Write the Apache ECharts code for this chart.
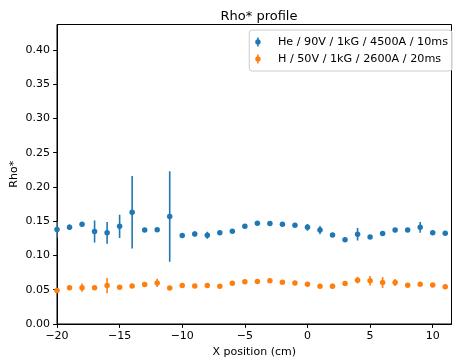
<!DOCTYPE html>
<html>
<head>
<meta charset="utf-8">
<script src="https://cdn.jsdelivr.net/npm/echarts@6/dist/echarts.min.js"></script>
<style>
  html, body { margin: 0; padding: 0; background: #fff; }
  #chart { width: 456px; height: 362px; }
</style>
</head>
<body>
<div id="chart"></div>
<script>
// x positions in cm
const xPos = [-20, -19, -18, -17, -16, -15, -14, -13, -12, -11, -10, -9, -8, -7, -6, -5,
              -4, -3, -2, -1, 0, 1, 2, 3, 4, 5, 6, 7, 8, 9, 10, 11];

// He / 90V / 1kG / 4500A / 10ms
const heVals = [0.138, 0.141, 0.1455, 0.135, 0.133, 0.1425, 0.163, 0.137, 0.1375, 0.157, 0.129, 0.1315,
                0.1295, 0.133, 0.1355, 0.1425, 0.147, 0.1465, 0.1455, 0.144, 0.141, 0.137, 0.130, 0.123,
                0.131, 0.127, 0.132, 0.137, 0.137, 0.141, 0.133, 0.1325];
const heErr = [0.012, 0.004, 0.003, 0.016, 0.016, 0.017, 0.053, 0.002, 0.002, 0.066, 0.002, 0.004,
               0.005, 0.002, 0.002, 0.002, 0.002, 0.002, 0.002, 0.002, 0.005, 0.006, 0.002, 0.003,
               0.009, 0.002, 0.002, 0.003, 0.002, 0.008, 0.003, 0.002];

// H / 50V / 1kG / 2600A / 20ms
const hVals = [0.049, 0.053, 0.053, 0.053, 0.056, 0.0535, 0.0555, 0.0575, 0.060, 0.0525, 0.056, 0.0555,
               0.056, 0.055, 0.0595, 0.0615, 0.062, 0.063, 0.061, 0.060, 0.058, 0.055, 0.055, 0.059,
               0.064, 0.063, 0.0605, 0.0605, 0.0565, 0.058, 0.057, 0.0545];
const hErr = [0.002, 0.003, 0.006, 0.002, 0.011, 0.002, 0.002, 0.002, 0.006, 0.002, 0.003, 0.002,
              0.003, 0.002, 0.002, 0.002, 0.002, 0.003, 0.002, 0.002, 0.002, 0.002, 0.004, 0.002,
              0.005, 0.007, 0.008, 0.005, 0.002, 0.002, 0.002, 0.002];

const xTicks = [-20, -15, -10, -5, 0, 5, 10];
const yTicks = [0, 0.05, 0.1, 0.15, 0.2, 0.25, 0.3, 0.35, 0.4];

const heName = "He / 90V / 1kG / 4500A / 10ms";
const hName = "H / 50V / 1kG / 2600A / 20ms";
const BLUE = "#1f77b4";
const ORANGE = "#ff7f0e";
const FONT = "DejaVu Sans";
const FS = 11;

const chart = echarts.init(document.getElementById("chart"), null, { renderer: "canvas" });

function errBars(name, vals, errs, color) {
    return {
        name: name,
        type: "custom",
        data: xPos.map((x, i) => [x, vals[i] - errs[i], vals[i] + errs[i]]),
        renderItem: (params, api) => {
            const lo = api.coord([api.value(0), api.value(1)]);
            const hi = api.coord([api.value(0), api.value(2)]);
            return {
                type: "line",
                shape: { x1: lo[0], y1: lo[1], x2: hi[0], y2: hi[1] },
                style: { stroke: color, lineWidth: 1.6 }
            };
        },
        clip: true,
        silent: true,
        z: 2
    };
}

// vertical bar with a dot, like an errorbar legend handle
const legendIcon = "path://M4.2,0 L5.8,0 L5.8,9 L4.2,9 Z M2.3,4.5 A2.7,2.7 0 1 1 7.7,4.5 A2.7,2.7 0 1 1 2.3,4.5 Z";

const option = {
    animation: false,
    textStyle: { fontFamily: FONT },
    title: {
        text: "Rho* profile",
        left: 254,
        textAlign: "center",
        top: 5,
        textStyle: { fontFamily: FONT, fontSize: 13, fontWeight: "normal", color: "#000" }
    },
    legend: {
        right: 4,
        top: 30,
        orient: "vertical",
        padding: [6, 4, 6, 6],
        itemWidth: 30,
        itemHeight: 9,
        itemGap: 5,
        borderColor: "#cccccc",
        borderWidth: 1,
        borderRadius: 3,
        backgroundColor: "rgba(255,255,255,0.8)",
        textStyle: { fontFamily: FONT, fontSize: 11.2, lineHeight: 12, color: "#000" },
        data: [
            { name: heName, icon: legendIcon, itemStyle: { color: BLUE } },
            { name: hName, icon: legendIcon, itemStyle: { color: ORANGE } }
        ]
    },
    grid: {
        left: 57, right: 4.5, top: 24.5, bottom: 38,
        outerBoundsMode: "none",
        containLabel: false,
        show: true, borderColor: "#000", borderWidth: 1, backgroundColor: "transparent"
    },
    xAxis: {
        type: "value",
        min: -20,
        max: 11.5,
        interval: 5,
        name: "X position (cm)",
        nameLocation: "middle",
        nameGap: 23,
        nameMoveOverlap: false,
        nameTextStyle: { fontFamily: FONT, fontSize: FS, color: "#000" },
        axisLine: { show: true, onZero: false, lineStyle: { color: "#000", width: 1 } },
        axisTick: { show: true, length: 3.9, lineStyle: { color: "#000" }, customValues: xTicks },
        axisLabel: {
            fontFamily: FONT, fontSize: FS, color: "#000", margin: 7,
            customValues: xTicks,
            formatter: (v) => String(v).replace("-", "\u2212")
        },
        splitLine: { show: false }
    },
    yAxis: {
        type: "value",
        min: 0,
        max: 0.437,
        interval: 0.05,
        name: "Rho*",
        nameLocation: "middle",
        nameGap: 37,
        nameMoveOverlap: false,
        nameTextStyle: { fontFamily: FONT, fontSize: FS, color: "#000" },
        axisLine: { show: true, onZero: false, lineStyle: { color: "#000", width: 1 } },
        axisTick: { show: true, length: 3.9, lineStyle: { color: "#000" }, customValues: yTicks },
        axisLabel: {
            fontFamily: FONT, fontSize: FS, color: "#000", margin: 7,
            customValues: yTicks,
            formatter: (v) => v.toFixed(2)
        },
        splitLine: { show: false }
    },
    series: [
        errBars(heName + " err", heVals, heErr, BLUE),
        errBars(hName + " err", hVals, hErr, ORANGE),
        {
            name: heName,
            type: "scatter",
            data: xPos.map((x, i) => [x, heVals[i]]),
            symbol: "circle",
            symbolSize: 5.5,
            itemStyle: { color: BLUE, opacity: 1 },
            clip: true,
            z: 3
        },
        {
            name: hName,
            type: "scatter",
            data: xPos.map((x, i) => [x, hVals[i]]),
            symbol: "circle",
            symbolSize: 5.5,
            itemStyle: { color: ORANGE, opacity: 1 },
            clip: true,
            z: 3
        }
    ]
};

chart.setOption(option);
</script>
</body>
</html>
